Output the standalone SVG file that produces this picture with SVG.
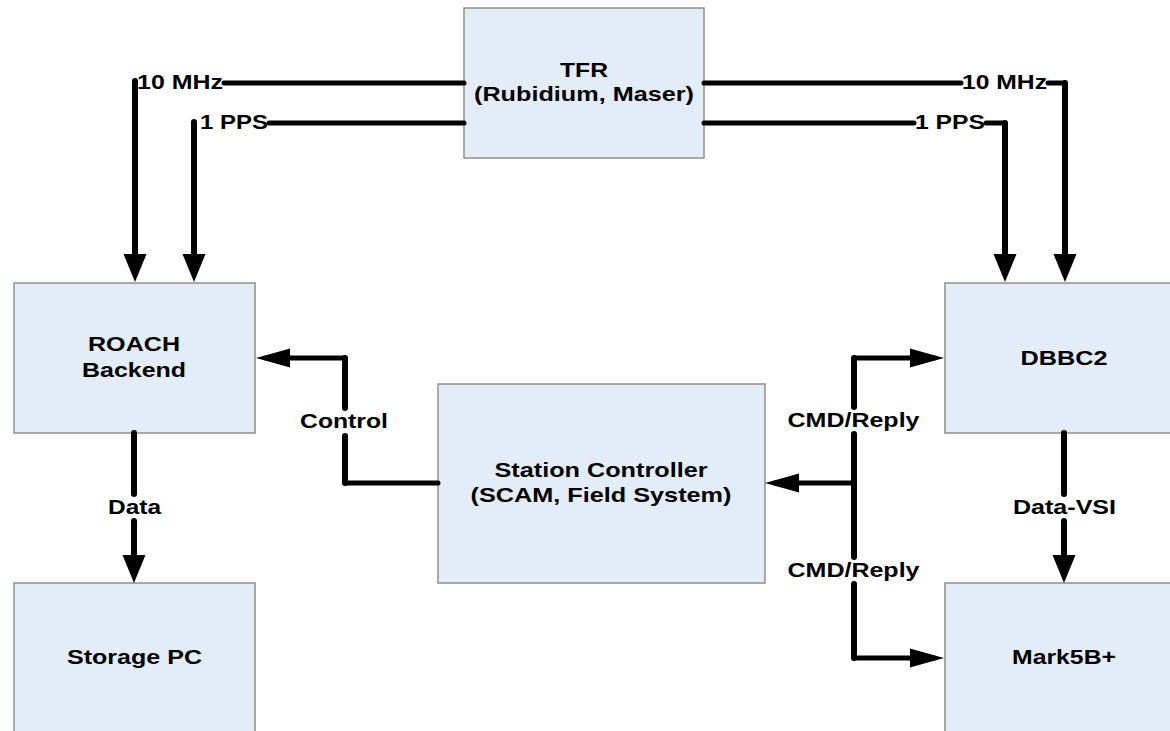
<svg xmlns="http://www.w3.org/2000/svg" width="1170" height="731" viewBox="0 0 1170 731">
<style>
.box{fill:#E4ECF7;stroke:#8E8E8E;stroke-width:1.5}
.t{font-family:"Liberation Sans",Arial,sans-serif;font-weight:bold;font-size:21px;fill:#000;text-anchor:middle}
.c{fill:none;stroke:#000;stroke-width:5;stroke-linecap:round;stroke-linejoin:round}
.v{stroke-width:6}
</style>
<defs>
<marker id="aV" markerUnits="userSpaceOnUse" markerWidth="28" markerHeight="23" refX="18" refY="11.5" orient="auto" overflow="visible"><path d="M0,0 L28,11.5 L0,23 z" fill="#000"/></marker>
<marker id="aH" markerUnits="userSpaceOnUse" markerWidth="34" markerHeight="19" refX="24" refY="9.5" orient="auto" overflow="visible"><path d="M0,0 L34,9.5 L0,19 z" fill="#000"/></marker>
</defs>
<rect width="1170" height="731" fill="#fff"/>
<g id="tfr"><rect class="box" x="464" y="8" width="240" height="150"/>
<text class="t" x="584" y="77" textLength="48" lengthAdjust="spacingAndGlyphs">TFR</text>
<text class="t" x="584" y="101" textLength="220" lengthAdjust="spacingAndGlyphs">(Rubidium, Maser)</text></g>
<g id="roach"><rect class="box" x="14" y="283" width="241" height="150"/>
<text class="t" x="134" y="351" textLength="92" lengthAdjust="spacingAndGlyphs">ROACH</text>
<text class="t" x="134" y="377" textLength="104" lengthAdjust="spacingAndGlyphs">Backend</text></g>
<g id="storage"><rect class="box" x="14" y="583" width="241" height="160"/>
<text class="t" x="134.5" y="664" textLength="135" lengthAdjust="spacingAndGlyphs">Storage PC</text></g>
<g id="station"><rect class="box" x="438" y="384" width="327" height="199"/>
<text class="t" x="601" y="477" textLength="213" lengthAdjust="spacingAndGlyphs">Station Controller</text>
<text class="t" x="601" y="502" textLength="261" lengthAdjust="spacingAndGlyphs">(SCAM, Field System)</text></g>
<g id="dbbc2"><rect class="box" x="945" y="283" width="250" height="150"/>
<text class="t" x="1064" y="365" textLength="87" lengthAdjust="spacingAndGlyphs">DBBC2</text></g>
<g id="mark5b"><rect class="box" x="945" y="583" width="250" height="160"/>
<text class="t" x="1064" y="664" textLength="104" lengthAdjust="spacingAndGlyphs">Mark5B+</text></g>
<g id="connectors">
<path class="c" d="M464,83 H224"/>
<path class="c v" d="M135,81 V272" marker-end="url(#aV)"/>
<path class="c" d="M464,123 H269"/>
<path class="c v" d="M194,122 V272" marker-end="url(#aV)"/>
<path class="c" d="M704,83 H961"/>
<path class="c" d="M1048,83 H1065"/>
<path class="c v" d="M1065,83 V272" marker-end="url(#aV)"/>
<path class="c" d="M704,123 H914"/>
<path class="c" d="M986,123 H1005"/>
<path class="c v" d="M1005,123 V272" marker-end="url(#aV)"/>
<path class="c v" d="M134,433 V494"/>
<path class="c v" d="M134,521 V573" marker-end="url(#aV)"/>
<path class="c v" d="M1064,433 V494"/>
<path class="c v" d="M1064,521 V573" marker-end="url(#aV)"/>
<path class="c" d="M438,483 H345"/>
<path class="c v" d="M345,483 V436"/>
<path class="c v" d="M345,408 V358"/>
<path class="c" d="M345,358 H266" marker-end="url(#aH)"/>
<path class="c" d="M854,483 H775" marker-end="url(#aH)"/>
<path class="c v" d="M854,407 V358"/>
<path class="c" d="M854,358 H934" marker-end="url(#aH)"/>
<path class="c v" d="M854,434 V557"/>
<path class="c v" d="M854,584 V658"/>
<path class="c" d="M854,658 H934" marker-end="url(#aH)"/>
<text class="t" x="180" y="89" textLength="86" lengthAdjust="spacingAndGlyphs">10 MHz</text>
<text class="t" x="234" y="129" textLength="68" lengthAdjust="spacingAndGlyphs">1 PPS</text>
<text class="t" x="1004.5" y="89" textLength="85" lengthAdjust="spacingAndGlyphs">10 MHz</text>
<text class="t" x="950" y="129" textLength="70" lengthAdjust="spacingAndGlyphs">1 PPS</text>
<text class="t" x="134.5" y="514" textLength="53" lengthAdjust="spacingAndGlyphs">Data</text>
<text class="t" x="1064.5" y="514" textLength="103" lengthAdjust="spacingAndGlyphs">Data-VSI</text>
<text class="t" x="344" y="428" textLength="88" lengthAdjust="spacingAndGlyphs">Control</text>
<text class="t" x="853.5" y="427" textLength="132" lengthAdjust="spacingAndGlyphs">CMD/Reply</text>
<text class="t" x="853.5" y="577" textLength="132" lengthAdjust="spacingAndGlyphs">CMD/Reply</text>
</g>
</svg>
